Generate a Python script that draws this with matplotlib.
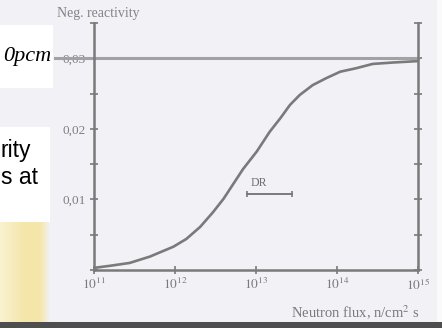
import numpy as np
import matplotlib
matplotlib.use('Agg')
import matplotlib.pyplot as plt
from matplotlib.patches import Rectangle
from matplotlib.ticker import NullLocator

# values (log10 of flux, negative reactivity)
flux_exp = [11.0, 11.20, 11.44, 11.69, 11.98, 12.14, 12.31, 12.47, 12.60, 12.72, 12.84,
            13.01, 13.17, 13.30, 13.42, 13.54, 13.70, 13.87, 14.04, 14.24, 14.44, 14.69, 15.0]
neg_react = [0.0003, 0.0006, 0.0010, 0.0019, 0.0033, 0.0044, 0.0061, 0.0082, 0.0101, 0.0122, 0.0143,
             0.0168, 0.0196, 0.0215, 0.0234, 0.0248, 0.0262, 0.0272, 0.0281, 0.0286, 0.0292, 0.0294, 0.0296]
saturation = 0.03
dr_span = [12.89, 13.44]
dr_level = 0.0108
x_decades = [11, 12, 13, 14, 15]
y_ticks = [0, 0.005, 0.01, 0.015, 0.02, 0.025, 0.03, 0.035]
y_labels = ['', '', '0,01', '', '0,02', '', '0,03', '']

W, H = 442, 328
def px(x, y, w, h):
    return [x / W, 1 - (y + h) / H, w / W, h / H]

plt.rcParams['mathtext.fontset'] = 'stix'
serif = 'Liberation Serif'
grey = '#7a7a7a'
bg = '#f1f1f6'

fig = plt.figure(figsize=(W / 100, H / 100), dpi=100, facecolor=bg)

ax = fig.add_axes(px(94, 23, 324, 247))
ax.set_facecolor('none')
ax.set_xscale('log')
ax.set_xlim(1e11, 1e15)
ax.set_ylim(0, 0.035)

flux = [10 ** e for e in flux_exp]
ax.plot(flux, neg_react, color=grey, lw=1.9, solid_capstyle='round', solid_joinstyle='round')
ax.axhline(saturation, xmin=-0.12, xmax=1, color='#a2a2a6', lw=2.2, clip_on=False)

# DR bar
ax.plot([10 ** dr_span[0], 10 ** dr_span[1]], [dr_level, dr_level], color=grey, lw=1.4,
        marker='|', ms=5, mew=1.2)
ax.text(10 ** np.mean(dr_span) * 0.75, dr_level + 0.0015, 'DR', ha='center', va='center',
        fontsize=8.5, color='#707070', family=serif)

for s in ['left', 'right', 'bottom']:
    ax.spines[s].set_color(grey)
    ax.spines[s].set_linewidth(1.8)
ax.spines['top'].set_visible(False)

ax.set_xticks([10 ** d for d in x_decades])
ax.set_xticklabels(['$10^{%d}$' % d for d in x_decades])
ax.xaxis.set_minor_locator(NullLocator())
ax.tick_params(axis='x', direction='inout', length=6, width=1.2, color=grey,
               labelsize=9.5, labelcolor='#7a7a7a', pad=2)

ax.set_yticks(y_ticks)
ax.set_yticklabels(y_labels)
ax.tick_params(axis='y', direction='inout', length=6, width=1.2, color=grey, right=True,
               labelright=False, labelsize=9.5, labelcolor='#808080', pad=3)
for lbl in ax.get_xticklabels() + ax.get_yticklabels():
    lbl.set_family(serif)

fig.text(98 / W, 1 - 13 / H, 'Neg. reactivity', ha='center', va='center', fontsize=10,
         color='#858585', family=serif)
fig.text(420 / W, 1 - 313 / H, 'Neutron flux, n/cm$^2$ s', ha='right', va='center',
         fontsize=10.5, color='#7a7a7a', family=serif)

# slide overlay on the left
fig.add_artist(Rectangle((0, 1 - 88 / H), 53 / W, 63 / H, transform=fig.transFigure,
                         facecolor='white', edgecolor='none', zorder=5))
fig.add_artist(Rectangle((0, 1 - 222 / H), 50 / W, 95 / H, transform=fig.transFigure,
                         facecolor='white', edgecolor='none', zorder=5))
fig.text(51 / W, 1 - 57 / H, '0pcm', ha='right', va='center', fontsize=16,
         family=serif, style='italic', zorder=6)
fig.text(1 / W, 1 - 150 / H, 'rity', ha='left', va='center', fontsize=16.5,
         family='Liberation Sans', zorder=6)
fig.text(1 / W, 1 - 177 / H, 's at', ha='left', va='center', fontsize=16.5,
         family='Liberation Sans', zorder=6)

gax = fig.add_axes(px(0, 222, 50, 100))
gax.set_zorder(4)
t = np.linspace(0, 1, 60)
c0 = np.array([0.98, 0.95, 0.82])
c1 = np.array([0.96, 0.90, 0.66])
c2 = np.array([0.945, 0.945, 0.965])
cols = []
for v in t:
    if v < 0.5:
        cols.append(c0 + (c1 - c0) * v / 0.5)
    elif v < 0.8:
        cols.append(c1)
    else:
        cols.append(c1 + (c2 - c1) * (v - 0.8) / 0.2)
gax.imshow(np.array(cols)[None, :, :], aspect='auto')
gax.axis('off')

fig.add_artist(Rectangle((437 / W, 6 / H), 5 / W, 1, transform=fig.transFigure,
                         facecolor='#fafafa', edgecolor='none', zorder=5))
fig.add_artist(Rectangle((0, 0), 1, 6 / H, transform=fig.transFigure,
                         facecolor='#4e4e4e', edgecolor='none', zorder=5))

fig.savefig('out.png', dpi=100, facecolor=bg)
